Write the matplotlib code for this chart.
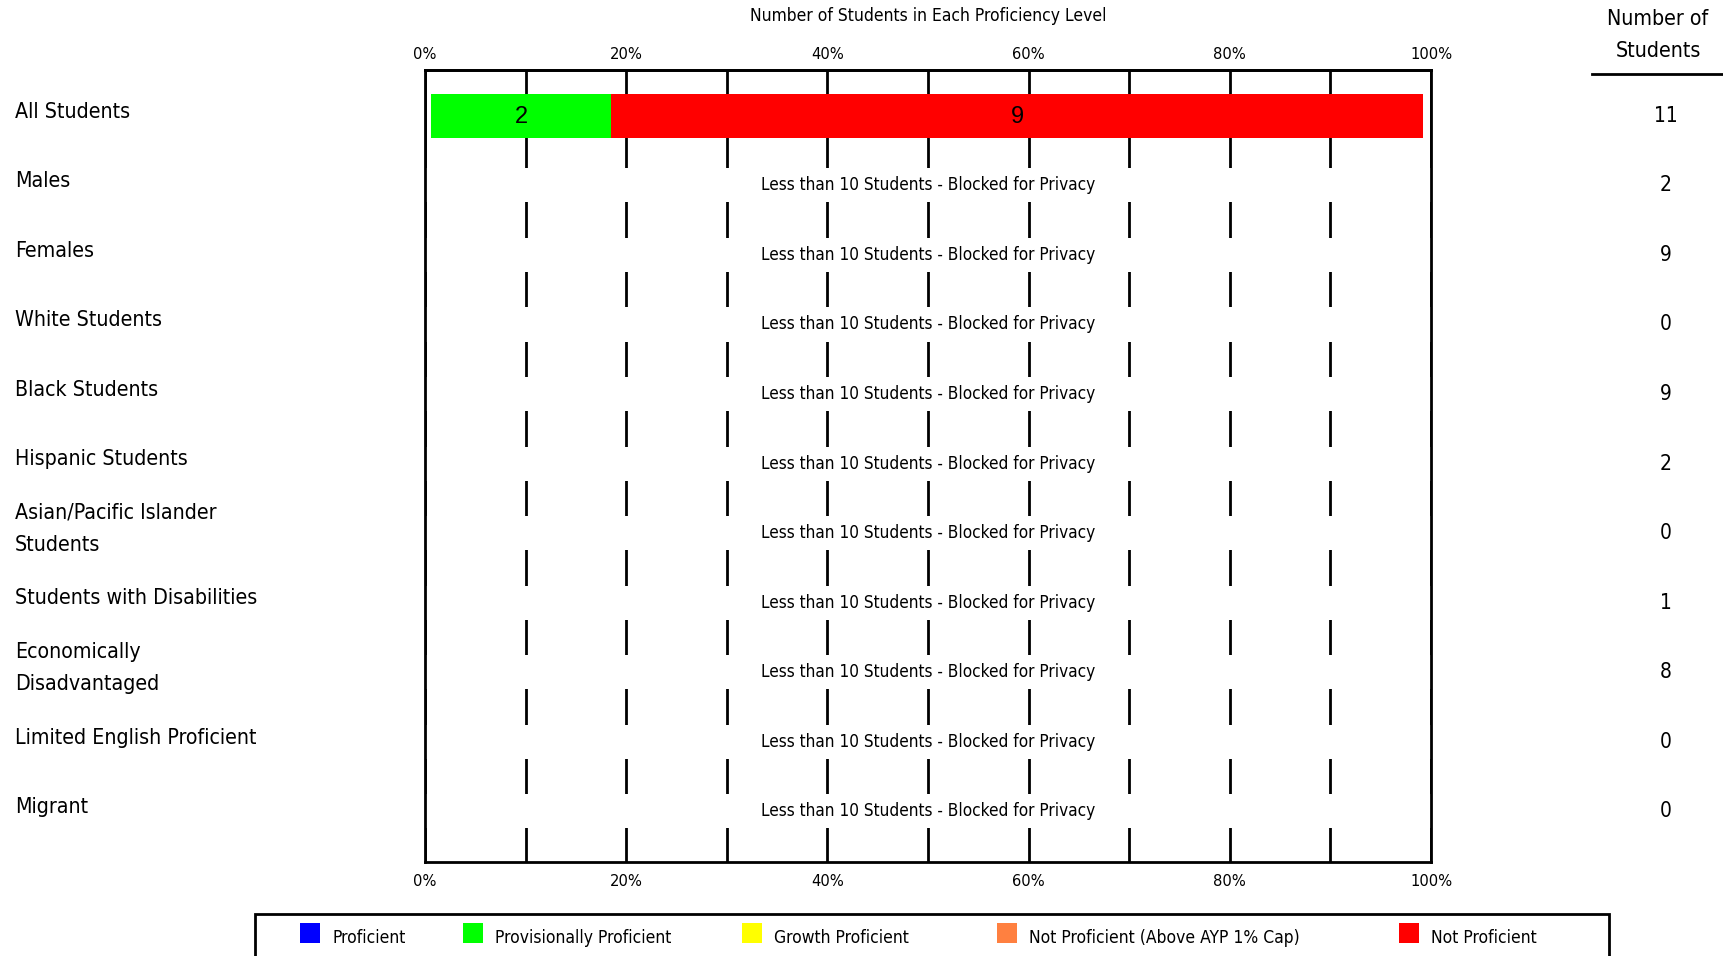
import numpy as np
import matplotlib.pyplot as plt
import matplotlib.transforms as mtransforms
from matplotlib.patches import Rectangle
from matplotlib.lines import Line2D
from matplotlib.font_manager import FontProperties

# --- data ---
groups = ['All Students', 'Males', 'Females', 'White Students', 'Black Students',
          'Hispanic Students', 'Asian/Pacific Islander\nStudents',
          'Students with Disabilities', 'Economically\nDisadvantaged',
          'Limited English Proficient', 'Migrant']
n_students = [11, 2, 9, 0, 9, 2, 0, 1, 8, 0, 0]

levels = ['Proficient', 'Provisionally Proficient', 'Growth Proficient',
          'Not Proficient (Above AYP 1% Cap)', 'Not Proficient']
level_colors = ['#0000ff', '#00ff00', '#ffff00', '#ff8040', '#ff0000']
# students per level (only groups with 10 or more students are shown)
level_counts = {'All Students': [0, 2, 0, 0, 9]}

pct_ticks = [0, 20, 40, 60, 80, 100]
pct_labels = [f'{t}%' for t in pct_ticks]
privacy_msg = 'Less than 10 Students - Blocked for Privacy'
min_shown = 10

plt.rcParams['font.family'] = ['DejaVu Sans Condensed', 'DejaVu Sans']
plt.rcParams['font.stretch'] = 'condensed'

W, H = 1723, 956
fig = plt.figure(figsize=(W / 100, H / 100), dpi=100)

# main axes: 0..100 % with gridlines every 10 %
ax = fig.add_axes([425 / W, 1 - 862 / H, 1006 / W, 792 / H])
ax.set_xlim(0, 100)
ax.set_ylim(10.73, -0.66)

# bars sit slightly inside the frame
bax = ax.twiny()
bax.set_xlim(-0.6, 100.8)
bax.set_xticks([])
for s in bax.spines.values():
    s.set_visible(False)

ax.set_xticks(pct_ticks)
ax.set_xticklabels(pct_labels, fontsize=11.8)
ax.set_xticks(range(0, 101, 10), minor=True)
ax.tick_params(axis='x', which='both', length=0, top=False, labeltop=False,
               bottom=True, labelbottom=True, pad=9)
ax.set_yticks([])
ax.set_axisbelow(True)
ax.grid(axis='x', which='both', color='black', lw=2)
for s in ax.spines.values():
    s.set_linewidth(2)

top = ax.secondary_xaxis('top')
top.set_xticks(pct_ticks, pct_labels, fontsize=11.8)
top.tick_params(length=0, pad=6)
top.spines['top'].set_linewidth(2)

rows = np.arange(len(groups))
num_font = FontProperties(family='Liberation Sans', stretch='normal', size=17)
for i, g in enumerate(groups):
    n = n_students[i]
    if n >= min_shown:
        counts = level_counts[g]
        left = 0
        for c, col in zip(counts, level_colors):
            if c == 0:
                continue
            w = 100 * c / n
            bax.barh(rows[i], w, left=left, height=0.63, color=col, zorder=2)
            bax.text(left + w / 2, rows[i] + 0.02, str(c), ha='center', va='center',
                     fontproperties=num_font, zorder=3)
            left += w
    else:
        ax.barh(rows[i], 100, left=0, height=0.49, color='white', zorder=1.5)
        ax.text(50, rows[i], privacy_msg, ha='center', va='center',
                fontsize=12.3, zorder=3)

# group labels on the left, counts on the right
tr = mtransforms.blended_transform_factory(fig.transFigure, ax.transData)
lab_tr = tr + mtransforms.ScaledTranslation(0, 3 / 72, fig.dpi_scale_trans)
for i, g in enumerate(groups):
    ax.text(15 / W, rows[i], g, transform=lab_tr, ha='left', va='center',
            fontsize=15.3, linespacing=1.75, clip_on=False)
    ax.text(1666 / W, rows[i], str(n_students[i]), transform=tr, ha='center',
            va='center', fontsize=15, clip_on=False)

fig.text(928 / W, 1 - 16 / H, 'Number of Students in Each Proficiency Level',
         ha='center', va='center', fontsize=12.5)
fig.text(1658 / W, 1 - 35 / H, 'Number of\nStudents', ha='center', va='center',
         fontsize=15.3, linespacing=1.75)
fig.add_artist(Line2D([1592 / W, 1.0], [1 - 74 / H, 1 - 74 / H],
                      color='black', lw=2))

# legend box along the bottom
fig.add_artist(Rectangle((255 / W, -0.05), 1354 / W, 0.05 + 1 - 914 / H,
                         fill=False, edgecolor='black', lw=2))
legend_x = [300, 463, 742, 997, 1399]
for x, lab, col in zip(legend_x, levels, level_colors):
    fig.add_artist(Rectangle((x / W, 1 - 943 / H), 20 / W, 20 / H,
                             facecolor=col, edgecolor='none'))
    fig.text((x + 32) / W, 1 - 938 / H, lab, ha='left', va='center', fontsize=12.5)

fig.savefig('out.png', dpi=100)
